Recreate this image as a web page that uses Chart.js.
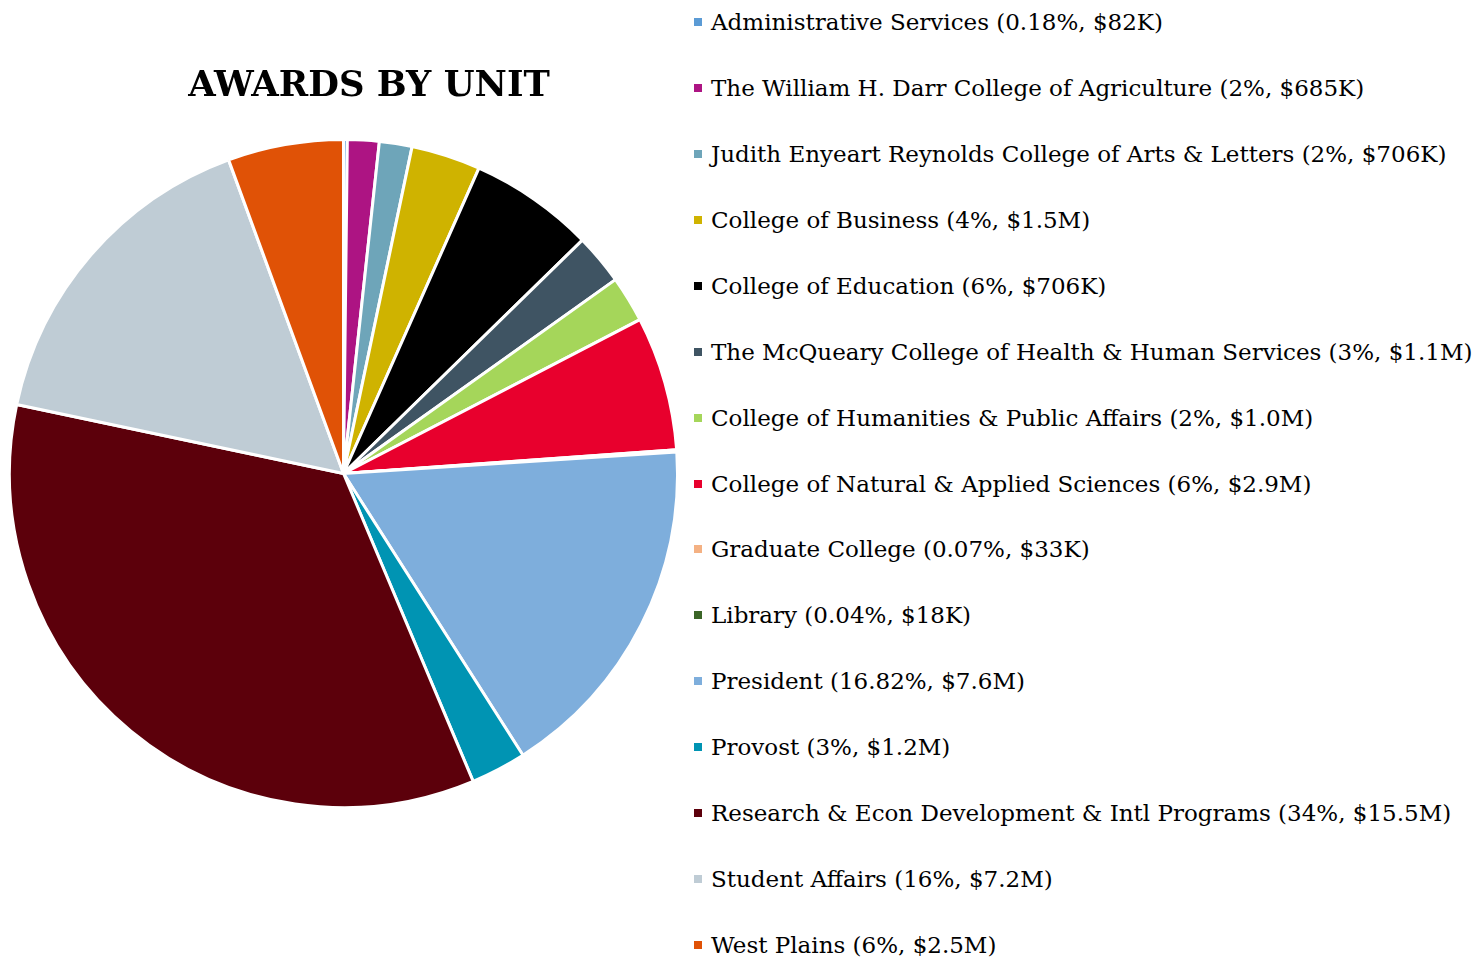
<!DOCTYPE html>
<html>
<head>
<meta charset="utf-8">
<script src="https://cdn.jsdelivr.net/npm/chart.js@4.4.0/dist/chart.umd.min.js"></script>
<style>
  html, body { margin: 0; padding: 0; background: #fff; }
  body { width: 1481px; height: 962px; position: relative; overflow: hidden; }
  #pieBox { position: absolute; left: 0; top: 0; width: 690px; height: 962px; }
  #title { position: absolute; left: 169px; width: 400px; top: 63px; text-align: center;
           font-family: "DejaVu Serif", serif; font-weight: bold; font-size: 35.4px; color: #000; }
  #legend { position: absolute; left: 0; top: 0; }
  .row { position: absolute; left: 694px; white-space: nowrap; height: 30px; line-height: 30px;
         font-family: "DejaVu Serif", serif; font-size: 23px; color: #000; }
  .box { display: inline-block; width: 8px; height: 8px; margin-right: 9px; vertical-align: middle; position: relative; top: -2px; }
</style>
</head>
<body>
<div id="pieBox"><canvas id="pie"></canvas></div>
<div id="title">AWARDS BY UNIT</div>
<div id="legend"></div>
<script>
// units in legend order (same order the slices go round, clockwise from the top)
const units = [
    "Administrative Services (0.18%, $82K)",
    "The William H. Darr College of Agriculture (2%, $685K)",
    "Judith Enyeart Reynolds College of Arts & Letters (2%, $706K)",
    "College of Business (4%, $1.5M)",
    "College of Education (6%, $706K)",
    "The McQueary College of Health & Human Services (3%, $1.1M)",
    "College of Humanities & Public Affairs (2%, $1.0M)",
    "College of Natural & Applied Sciences (6%, $2.9M)",
    "Graduate College (0.07%, $33K)",
    "Library (0.04%, $18K)",
    "President (16.82%, $7.6M)",
    "Provost (3%, $1.2M)",
    "Research & Econ Development & Intl Programs (34%, $15.5M)",
    "Student Affairs (16%, $7.2M)",
    "West Plains (6%, $2.5M)",
];

// award amounts in $K (education)
const awards = [82, 685, 706, 1500, 2700, 1100, 1000, 2900, 33, 18, 7600, 1200, 15500, 7200, 2500];

const colors = [
    "#5b9bd5", "#ad1483", "#6ea5b9", "#cfb300", "#000000",
    "#3f5463", "#a5d65a", "#e8002d", "#f4b183", "#3b6527",
    "#7eaedc", "#0094b3", "#5c000b", "#bfccd5", "#e05206",
];

const makeLegend = () => {
    const legendDiv = document.getElementById("legend");
    units.forEach((unit, i) => {
        const row = document.createElement("div");
        row.className = "row";
        row.style.top = (22 + i * 65.93 - 15) + "px";
        const box = document.createElement("span");
        box.className = "box";
        box.style.background = colors[i];
        row.appendChild(box);
        row.appendChild(document.createTextNode(unit));
        legendDiv.appendChild(row);
    });
};

const makeChart = () => {
    const ctx = document.getElementById("pie").getContext("2d");
    new Chart(ctx, {
        type: "pie",
        data: {
            labels: units,
            datasets: [{
                data: awards,
                backgroundColor: colors,
                borderColor: "#ffffff",
                borderWidth: 3,
            }],
        },
        options: {
            responsive: true,
            maintainAspectRatio: false,
            animation: false,
            layout: { padding: { left: 8, right: 11, top: 138, bottom: 153 } },
            plugins: {
                legend: { display: false },
                tooltip: { enabled: false },
            },
        },
    });
};

makeLegend();
makeChart();
</script>
</body>
</html>
